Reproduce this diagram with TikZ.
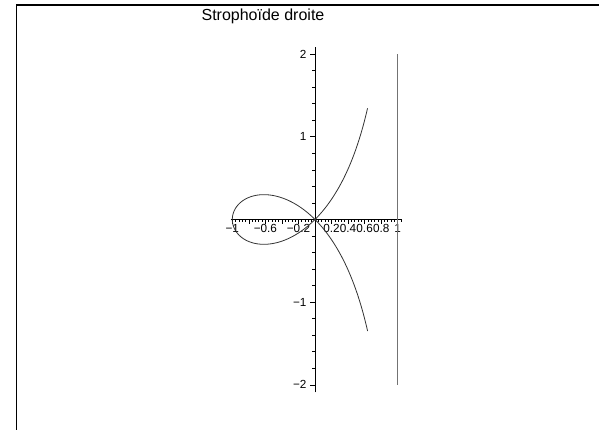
\documentclass[tikz,border=0pt]{standalone}
\usepackage{fontspec}
\setmainfont{Liberation Sans}

\begin{document}
\begin{tikzpicture}[
  x=62pt, y=62pt,
  every node/.style={font=\fontsize{8.8}{10}\selectfont},
  frameline/.style={line width=1.4pt},
  axisline/.style={line width=0.6pt},
  tickline/.style={line width=0.5pt},
  curveline/.style={line width=0.6pt, black!80},
  asymline/.style={line width=0.5pt, black!55},
  ticklabel/.style={inner sep=0pt},
  titlelabel/.style={font=\fontsize{12}{14}\selectfont, inner sep=0pt},
]
\useasboundingbox (-3.809,-2.545) rectangle (3.434,2.654);
\draw[frameline] (-3.609,-2.6) -- (-3.609,2.594) -- (3.5,2.594);
\node[titlelabel] (title) at (-0.629,2.461) {Strophoïde droite};

% axes
\draw[axisline] (-1.02,0) -- (1.05,0);
\draw[axisline] (0,-2.09) -- (0,2.09);
\foreach \i in {-25,...,26}
  \draw[tickline] (\i*0.04,0) -- ++(0,-0.03);
\foreach \i in {-5,...,5}
  \draw[tickline] (\i*0.2,0) -- ++(0,-0.05);
\foreach \j in {-10,...,10}
  \draw[tickline] (0,\j*0.2) -- ++(-0.035,0);
\foreach \j in {-2,...,2}
  \draw[tickline] (0,\j) -- ++(-0.065,0);

% tick labels
\foreach \v/\t [count=\k] in {-1/−1, -0.6/−0.6, -0.2/−0.2, 0.2/0.2,
                              0.4/0.4, 0.6/0.6, 0.8/0.8, 1/1}
  \node[ticklabel, anchor=base] (xlab\k) at (\v,-0.16) {\t};
\foreach \v/\t [count=\k] in {2/2, 1/1, -1/−1, -2/−2}
  \node[ticklabel, anchor=east] (ylab\k) at (-0.1,\v) {\t};

% curve and asymptote
\draw[curveline] plot[domain=-2.12:2.12, samples=241, variable=\t, smooth]
  ({(\t*\t-1)/(\t*\t+1)}, {\t*(\t*\t-1)/(\t*\t+1)});
\draw[asymline] (1,-2) -- (1,2);
\end{tikzpicture}
\end{document}
